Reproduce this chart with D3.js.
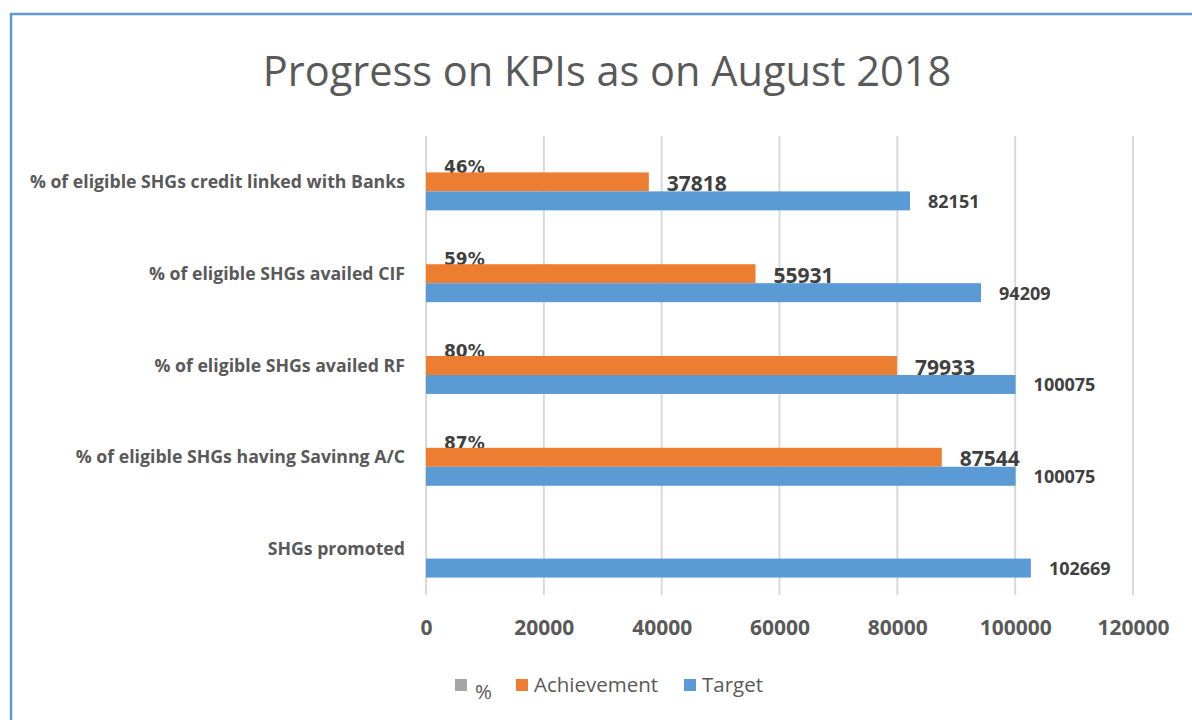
<html>

<head>
  <title>Progress on KPIs</title>
  <script src="https://cdn.jsdelivr.net/npm/d3@7"></script>
  <style>
    body { margin: 0; background: #fff; }
    svg text { font-family: "Open Sans", Lato, sans-serif; }
  </style>
</head>

<body>
  <script>
    // data
    const categories = [
      "% of eligible SHGs credit linked with Banks",
      "% of eligible SHGs availed CIF",
      "% of eligible SHGs availed RF",
      "% of eligible SHGs having Savinng A/C",
      "SHGs promoted"
    ];
    const target = [82151, 94209, 100075, 100075, 102669];
    const achievement = [37818, 55931, 79933, 87544, null];
    const percent = [46, 59, 80, 87, null];
    const xTicks = [0, 20000, 40000, 60000, 80000, 100000, 120000];

    const w = 1192, h = 720;
    const plotLeft = 426, plotRight = 1133, plotTop = 136, plotBottom = 595;

    const svg = d3.select("body").append("svg")
      .attr("width", w).attr("height", h);

    // frame
    svg.append("path")
      .attr("d", "M11,720 V14 H1192")
      .attr("fill", "none")
      .attr("stroke", "#5b9bd5")
      .attr("stroke-width", 2.5);

    svg.append("text")
      .attr("x", 607).attr("y", 86)
      .attr("text-anchor", "middle")
      .attr("font-size", 41.5)
      .attr("fill", "#595959")
      .text("Progress on KPIs as on August 2018");

    const x = d3.scaleLinear().domain([0, 120000]).range([plotLeft, plotRight]);
    const y = d3.scaleBand().domain(categories).range([plotTop, plotBottom]).paddingInner(0.38).paddingOuter(0.19);
    const series = ["pct", "ach", "tgt"];
    const ySub = d3.scaleBand().domain(series).range([0, y.bandwidth()]);

    // grid
    svg.append("g").selectAll("line")
      .data(xTicks)
      .enter().append("line")
      .attr("x1", d => x(d)).attr("x2", d => x(d))
      .attr("y1", plotTop).attr("y2", plotBottom)
      .attr("stroke", "#d9d9d9").attr("stroke-width", 2);

    // x axis labels
    const xAxis = d3.axisBottom(x).tickValues(xTicks).tickFormat(d3.format("d")).tickSize(0).tickPadding(25);
    const ax = svg.append("g")
      .attr("transform", "translate(0," + plotBottom + ")")
      .call(xAxis);
    ax.select(".domain").remove();
    ax.selectAll("text")
      .attr("font-size", 21).attr("font-weight", "bold")
      .attr("fill", "#595959")
      .style("font-family", "'Open Sans', sans-serif");

    // category labels
    svg.append("g").selectAll("text")
      .data(categories)
      .enter().append("text")
      .attr("x", 405)
      .attr("y", d => y(d) + y.bandwidth() / 2 + 6)
      .attr("text-anchor", "end")
      .attr("font-size", 17.7).attr("font-weight", "bold")
      .attr("fill", "#595959")
      .text(d => d);

    // percent labels (drawn under bars)
    svg.append("g").selectAll("text")
      .data(percent.map((v, i) => ({ v, c: categories[i] })).filter(d => d.v != null))
      .enter().append("text")
      .attr("x", x(0) + 18)
      .attr("y", d => y(d.c) + ySub("ach") + 1)
      .attr("font-size", 17).attr("font-weight", "bold")
      .attr("fill", "#404040")
      .style("font-family", "'DejaVu Sans', sans-serif")
      .text(d => d.v + "%");

    // bars
    svg.append("g").selectAll("rect")
      .data(achievement.map((v, i) => ({ v, c: categories[i] })).filter(d => d.v != null))
      .enter().append("rect")
      .attr("x", x(0))
      .attr("y", d => y(d.c) + ySub("ach"))
      .attr("width", d => x(d.v) - x(0))
      .attr("height", ySub.bandwidth())
      .attr("fill", "#ed7d31");

    svg.append("g").selectAll("rect")
      .data(target.map((v, i) => ({ v, c: categories[i] })))
      .enter().append("rect")
      .attr("x", x(0))
      .attr("y", d => y(d.c) + ySub("tgt"))
      .attr("width", d => x(d.v) - x(0))
      .attr("height", ySub.bandwidth())
      .attr("fill", "#5b9bd5");

    // value labels
    svg.append("g").selectAll("text")
      .data(achievement.map((v, i) => ({ v, c: categories[i] })).filter(d => d.v != null))
      .enter().append("text")
      .attr("x", d => x(d.v) + 18)
      .attr("y", d => y(d.c) + ySub("ach") + ySub.bandwidth() / 2 + 9)
      .attr("font-size", 21).attr("font-weight", "bold")
      .attr("fill", "#404040")
      .text(d => d.v);

    svg.append("g").selectAll("text")
      .data(target.map((v, i) => ({ v, c: categories[i] })))
      .enter().append("text")
      .attr("x", d => x(d.v) + 18)
      .attr("y", d => y(d.c) + ySub("tgt") + ySub.bandwidth() / 2 + 7)
      .attr("font-size", 18).attr("font-weight", "bold")
      .attr("fill", "#404040")
      .text(d => d.v);

    // legend
    const legend = [
      { name: "%", color: "#a5a5a5", x: 455 },
      { name: "Achievement", color: "#ed7d31", x: 516 },
      { name: "Target", color: "#5b9bd5", x: 684 }
    ];
    const lg = svg.append("g").selectAll("g")
      .data(legend)
      .enter().append("g")
      .attr("transform", d => "translate(" + d.x + ",679)");
    lg.append("rect")
      .attr("width", 12).attr("height", 12)
      .attr("fill", d => d.color);
    lg.append("text")
      .attr("x", d => d.name === "%" ? 20 : 18)
      .attr("y", d => d.name === "%" ? 20 : 13)
      .attr("font-size", 20.5)
      .attr("fill", "#595959")
      .text(d => d.name);
  </script>
</body>

</html>
